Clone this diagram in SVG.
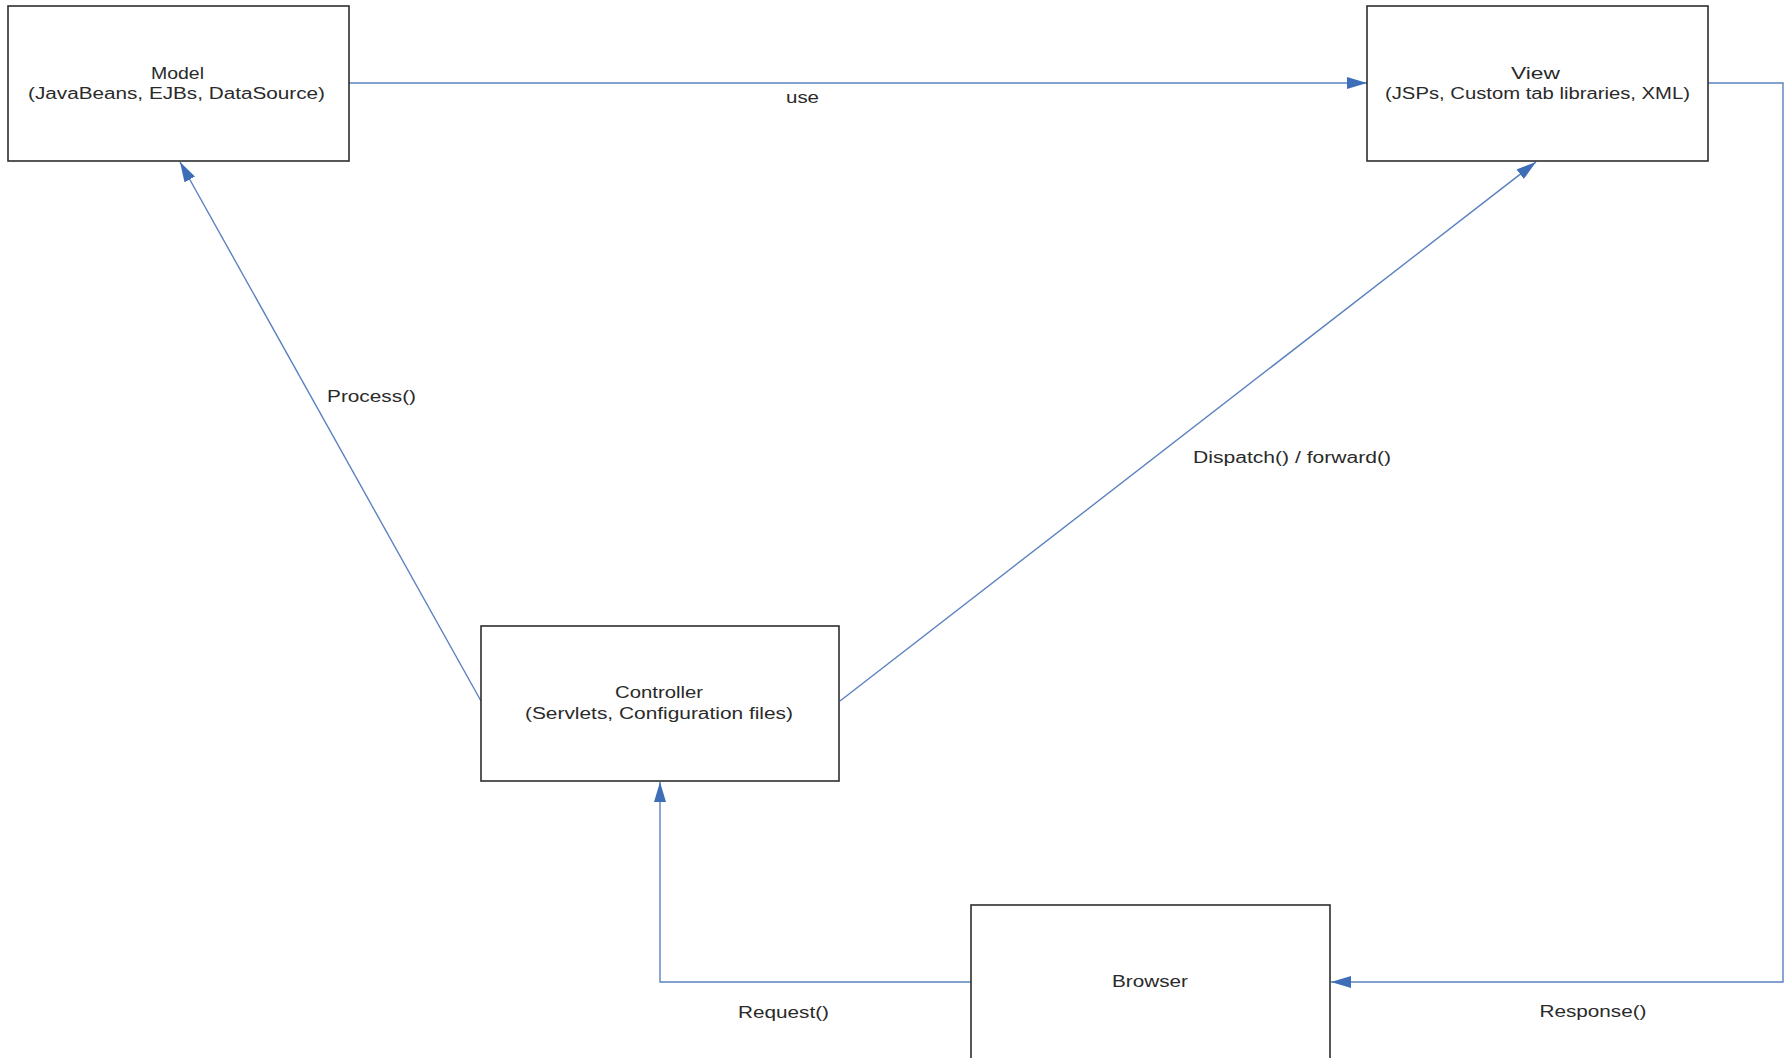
<svg xmlns="http://www.w3.org/2000/svg" width="1787" height="1058" viewBox="0 0 1787 1058">
  <style>
    .box { fill: #ffffff; stroke: #2e2e2e; stroke-width: 1.6; }
    .lbl { font-family: "Liberation Sans", Arial, sans-serif; font-size: 16px; fill: #2a2a2a; text-anchor: middle; }
    .wire { fill: none; stroke: #5b82c0; stroke-width: 1.4; }
  </style>
  <defs>
    <marker id="arrow" viewBox="0 0 20 12" refX="20" refY="6" markerWidth="20" markerHeight="12" markerUnits="userSpaceOnUse" orient="auto">
      <path d="M0,0 L20,6 L0,12 Z" fill="#3f6eb8"/>
    </marker>
  </defs>
  <rect width="1787" height="1058" fill="#ffffff"/>

  <!-- connectors -->
  <g id="connectors">
    <path class="wire" d="M349,83 L1367,83" marker-end="url(#arrow)"/>
    <path class="wire" d="M481,701 L180,162" marker-end="url(#arrow)"/>
    <path class="wire" d="M840,701 L1536,162" marker-end="url(#arrow)"/>
    <path class="wire" d="M1708,83 L1783,83 L1783,982 L1331,982" marker-end="url(#arrow)"/>
    <path class="wire" d="M971,982 L660,982 L660,782" marker-end="url(#arrow)"/>
    <text class="lbl" x="802.5" y="103" textLength="33" lengthAdjust="spacingAndGlyphs">use</text>
    <text class="lbl" x="371.5" y="402" textLength="89" lengthAdjust="spacingAndGlyphs">Process()</text>
    <text class="lbl" x="1292" y="463" textLength="198" lengthAdjust="spacingAndGlyphs">Dispatch() / forward()</text>
    <text class="lbl" x="783.5" y="1018" textLength="91" lengthAdjust="spacingAndGlyphs">Request()</text>
    <text class="lbl" x="1593" y="1017" textLength="107" lengthAdjust="spacingAndGlyphs">Response()</text>
  </g>

  <g id="model">
    <rect class="box" x="8" y="6" width="341" height="155"/>
    <text class="lbl" x="177.5" y="79" textLength="53" lengthAdjust="spacingAndGlyphs">Model</text>
    <text class="lbl" x="176.5" y="99" textLength="297" lengthAdjust="spacingAndGlyphs">(JavaBeans, EJBs, DataSource)</text>
  </g>

  <g id="view">
    <rect class="box" x="1367" y="6" width="341" height="155"/>
    <text class="lbl" x="1535.5" y="79" textLength="49" lengthAdjust="spacingAndGlyphs">View</text>
    <text class="lbl" x="1537.5" y="99" textLength="305" lengthAdjust="spacingAndGlyphs">(JSPs, Custom tab libraries, XML)</text>
  </g>

  <g id="controller">
    <rect class="box" x="481" y="626" width="358" height="155"/>
    <text class="lbl" x="659" y="698" textLength="88" lengthAdjust="spacingAndGlyphs">Controller</text>
    <text class="lbl" x="659" y="719" textLength="268" lengthAdjust="spacingAndGlyphs">(Servlets, Configuration files)</text>
  </g>

  <g id="browser">
    <rect class="box" x="971" y="905" width="359" height="170"/>
    <text class="lbl" x="1150" y="987" textLength="76" lengthAdjust="spacingAndGlyphs">Browser</text>
  </g>
</svg>
